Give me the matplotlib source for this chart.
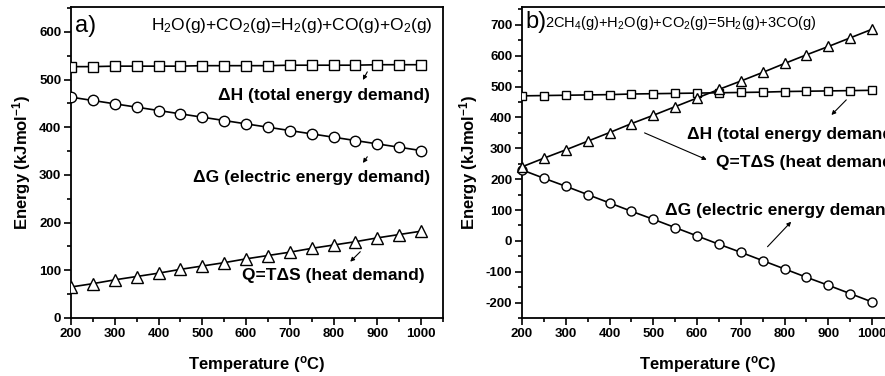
import matplotlib
matplotlib.use("Agg")
import matplotlib.pyplot as plt
from matplotlib.ticker import MultipleLocator

plt.rcParams['font.family'] = ['Liberation Sans', 'DejaVu Sans']
plt.rcParams['mathtext.fontset'] = 'custom'
plt.rcParams['mathtext.rm'] = 'Liberation Sans'
plt.rcParams['mathtext.bf'] = 'Liberation Sans:bold'
plt.rcParams['mathtext.it'] = 'Liberation Sans:italic'
plt.rcParams['axes.unicode_minus'] = False

# ---------------- data ----------------
temps = [200, 250, 300, 350, 400, 450, 500, 550, 600, 650, 700, 750, 800, 850, 900, 950, 1000]

# panel a: H2O + CO2 = H2 + CO + O2
a_dH = [527, 527, 528, 528, 528, 528, 529, 529, 529, 529, 530, 530, 530, 530, 531, 531, 531]
a_dG = [463, 456, 449, 442, 435, 428, 421, 414, 407, 400, 393, 386, 379, 372, 365, 358, 351]
a_Q = [65, 72, 80, 87, 94, 102, 109, 116, 124, 131, 138, 146, 153, 160, 168, 175, 182]

# panel b: 2CH4 + H2O + CO2 = 5H2 + 3CO
b_dH = [470, 471, 472, 473, 474, 476, 477, 478, 479, 480, 481, 482, 484, 485, 486, 487, 488]
b_dG = [230, 203, 177, 150, 123, 96, 70, 43, 16, -11, -37, -64, -91, -118, -144, -171, -198]
b_Q = [240, 268, 295, 323, 351, 380, 407, 435, 463, 491, 518, 546, 575, 603, 630, 658, 686]

x_ticks = [200, 300, 400, 500, 600, 700, 800, 900, 1000]
a_yticks = [0, 100, 200, 300, 400, 500, 600]
b_yticks = [-200, -100, 0, 100, 200, 300, 400, 500, 600, 700]

fig = plt.figure(figsize=(8.85, 3.76), dpi=100)
W, H = 885.0, 376.0
axa = fig.add_axes([71 / W, 1 - 318 / H, 372 / W, 311 / H])
axb = fig.add_axes([522 / W, 1 - 318 / H, 372 / W, 311 / H])

mfc = 'white'
lc = 'black'


def style(ax, yticks, ylim):
    ax.set_xlim(200, 1050)
    ax.set_ylim(*ylim)
    ax.set_xticks(x_ticks)
    ax.set_yticks(yticks)
    ax.xaxis.set_minor_locator(MultipleLocator(50))
    ax.yaxis.set_minor_locator(MultipleLocator(50))
    ax.tick_params(which='both', direction='out', top=False, right=False, width=1.2)
    ax.tick_params(which='major', length=5, labelsize=9.5, pad=2)
    ax.tick_params(which='minor', length=3)
    for lab in ax.get_xticklabels() + ax.get_yticklabels():
        lab.set_fontweight('bold')
    for s in ax.spines.values():
        s.set_linewidth(1.3)
    ax.set_xlabel(r'Temperature ($^\mathbf{o}$C)', fontsize=12, fontweight='bold', labelpad=10)
    ax.set_ylabel(r'Energy (kJmol$^\mathbf{-1}$)', fontsize=12, fontweight='bold', labelpad=4)


# ---------- panel a ----------
axa.plot(temps, a_dH, '-s', color=lc, lw=1.2, ms=7, mfc=mfc, mec='black', mew=1.0, clip_on=True, zorder=3)
axa.plot(temps, a_dG, '-o', color=lc, lw=1.2, ms=7.5, mfc=mfc, mec='black', mew=1.0, clip_on=True, zorder=3)
axa.plot(temps, a_Q, '-^', color=lc, lw=1.2, ms=8, mfc=mfc, mec='black', mew=1.0, clip_on=True, zorder=3)
style(axa, a_yticks, (0, 652))

axa.text(209, 600, 'a)', fontsize=17, va='baseline', ha='left')
axa.text(1025, 604, r'H$_2$O(g)+CO$_2$(g)=H$_2$(g)+CO(g)+O$_2$(g)', fontsize=12.5,
         ha='right', va='baseline')
axa.text(1021, 466, 'ΔH (total energy demand)', fontsize=12.5, fontweight='bold', ha='right', va='center')
axa.text(1021, 294, 'ΔG (electric energy demand)', fontsize=12.5, fontweight='bold', ha='right', va='center')
axa.text(1009, 90, 'Q=TΔS (heat demand)', fontsize=12.5, fontweight='bold', ha='right', va='center')

arrow = dict(arrowstyle='-|>', color='black', lw=0.8, mutation_scale=6, shrinkA=0, shrinkB=0)
axa.annotate('', xy=(867, 499), xytext=(877, 516), arrowprops=arrow)
axa.annotate('', xy=(867, 325), xytext=(877, 338), arrowprops=arrow)
axa.annotate('', xy=(838, 118), xytext=(861, 139), arrowprops=arrow)

# ---------- panel b ----------
axb.plot(temps, b_dH, '-s', color=lc, lw=1.2, ms=5.5, mfc=mfc, mec='black', mew=1.0, clip_on=True, zorder=3)
axb.plot(temps, b_dG, '-o', color=lc, lw=1.2, ms=6.5, mfc=mfc, mec='black', mew=1.0, clip_on=False, zorder=3)
axb.plot(temps, b_Q, '-^', color=lc, lw=1.2, ms=7.5, mfc=mfc, mec='black', mew=1.0, clip_on=False, zorder=3)
style(axb, b_yticks, (-250, 758))

axb.text(207, 690, 'b)', fontsize=17, va='baseline', ha='left')
axb.text(252, 693, r'2CH$_4$(g)+H$_2$O(g)+CO$_2$(g)=5H$_2$(g)+3CO(g)', fontsize=10.5,
         ha='left', va='baseline')
axb.text(576, 344, 'ΔH (total energy demand)', fontsize=12.5, fontweight='bold', ha='left', va='center')
axb.text(644, 253, 'Q=TΔS (heat demand)', fontsize=12.5, fontweight='bold', ha='left', va='center')
axb.text(526, 100, 'ΔG (electric energy demand)', fontsize=12.5, fontweight='bold', ha='left', va='center')

axb.annotate('', xy=(907, 408), xytext=(941, 457), arrowprops=arrow)
axb.annotate('', xy=(622, 263), xytext=(480, 350), arrowprops=arrow)
axb.annotate('', xy=(815, 62), xytext=(761, -19), arrowprops=arrow)

fig.savefig('out.png', dpi=100)
